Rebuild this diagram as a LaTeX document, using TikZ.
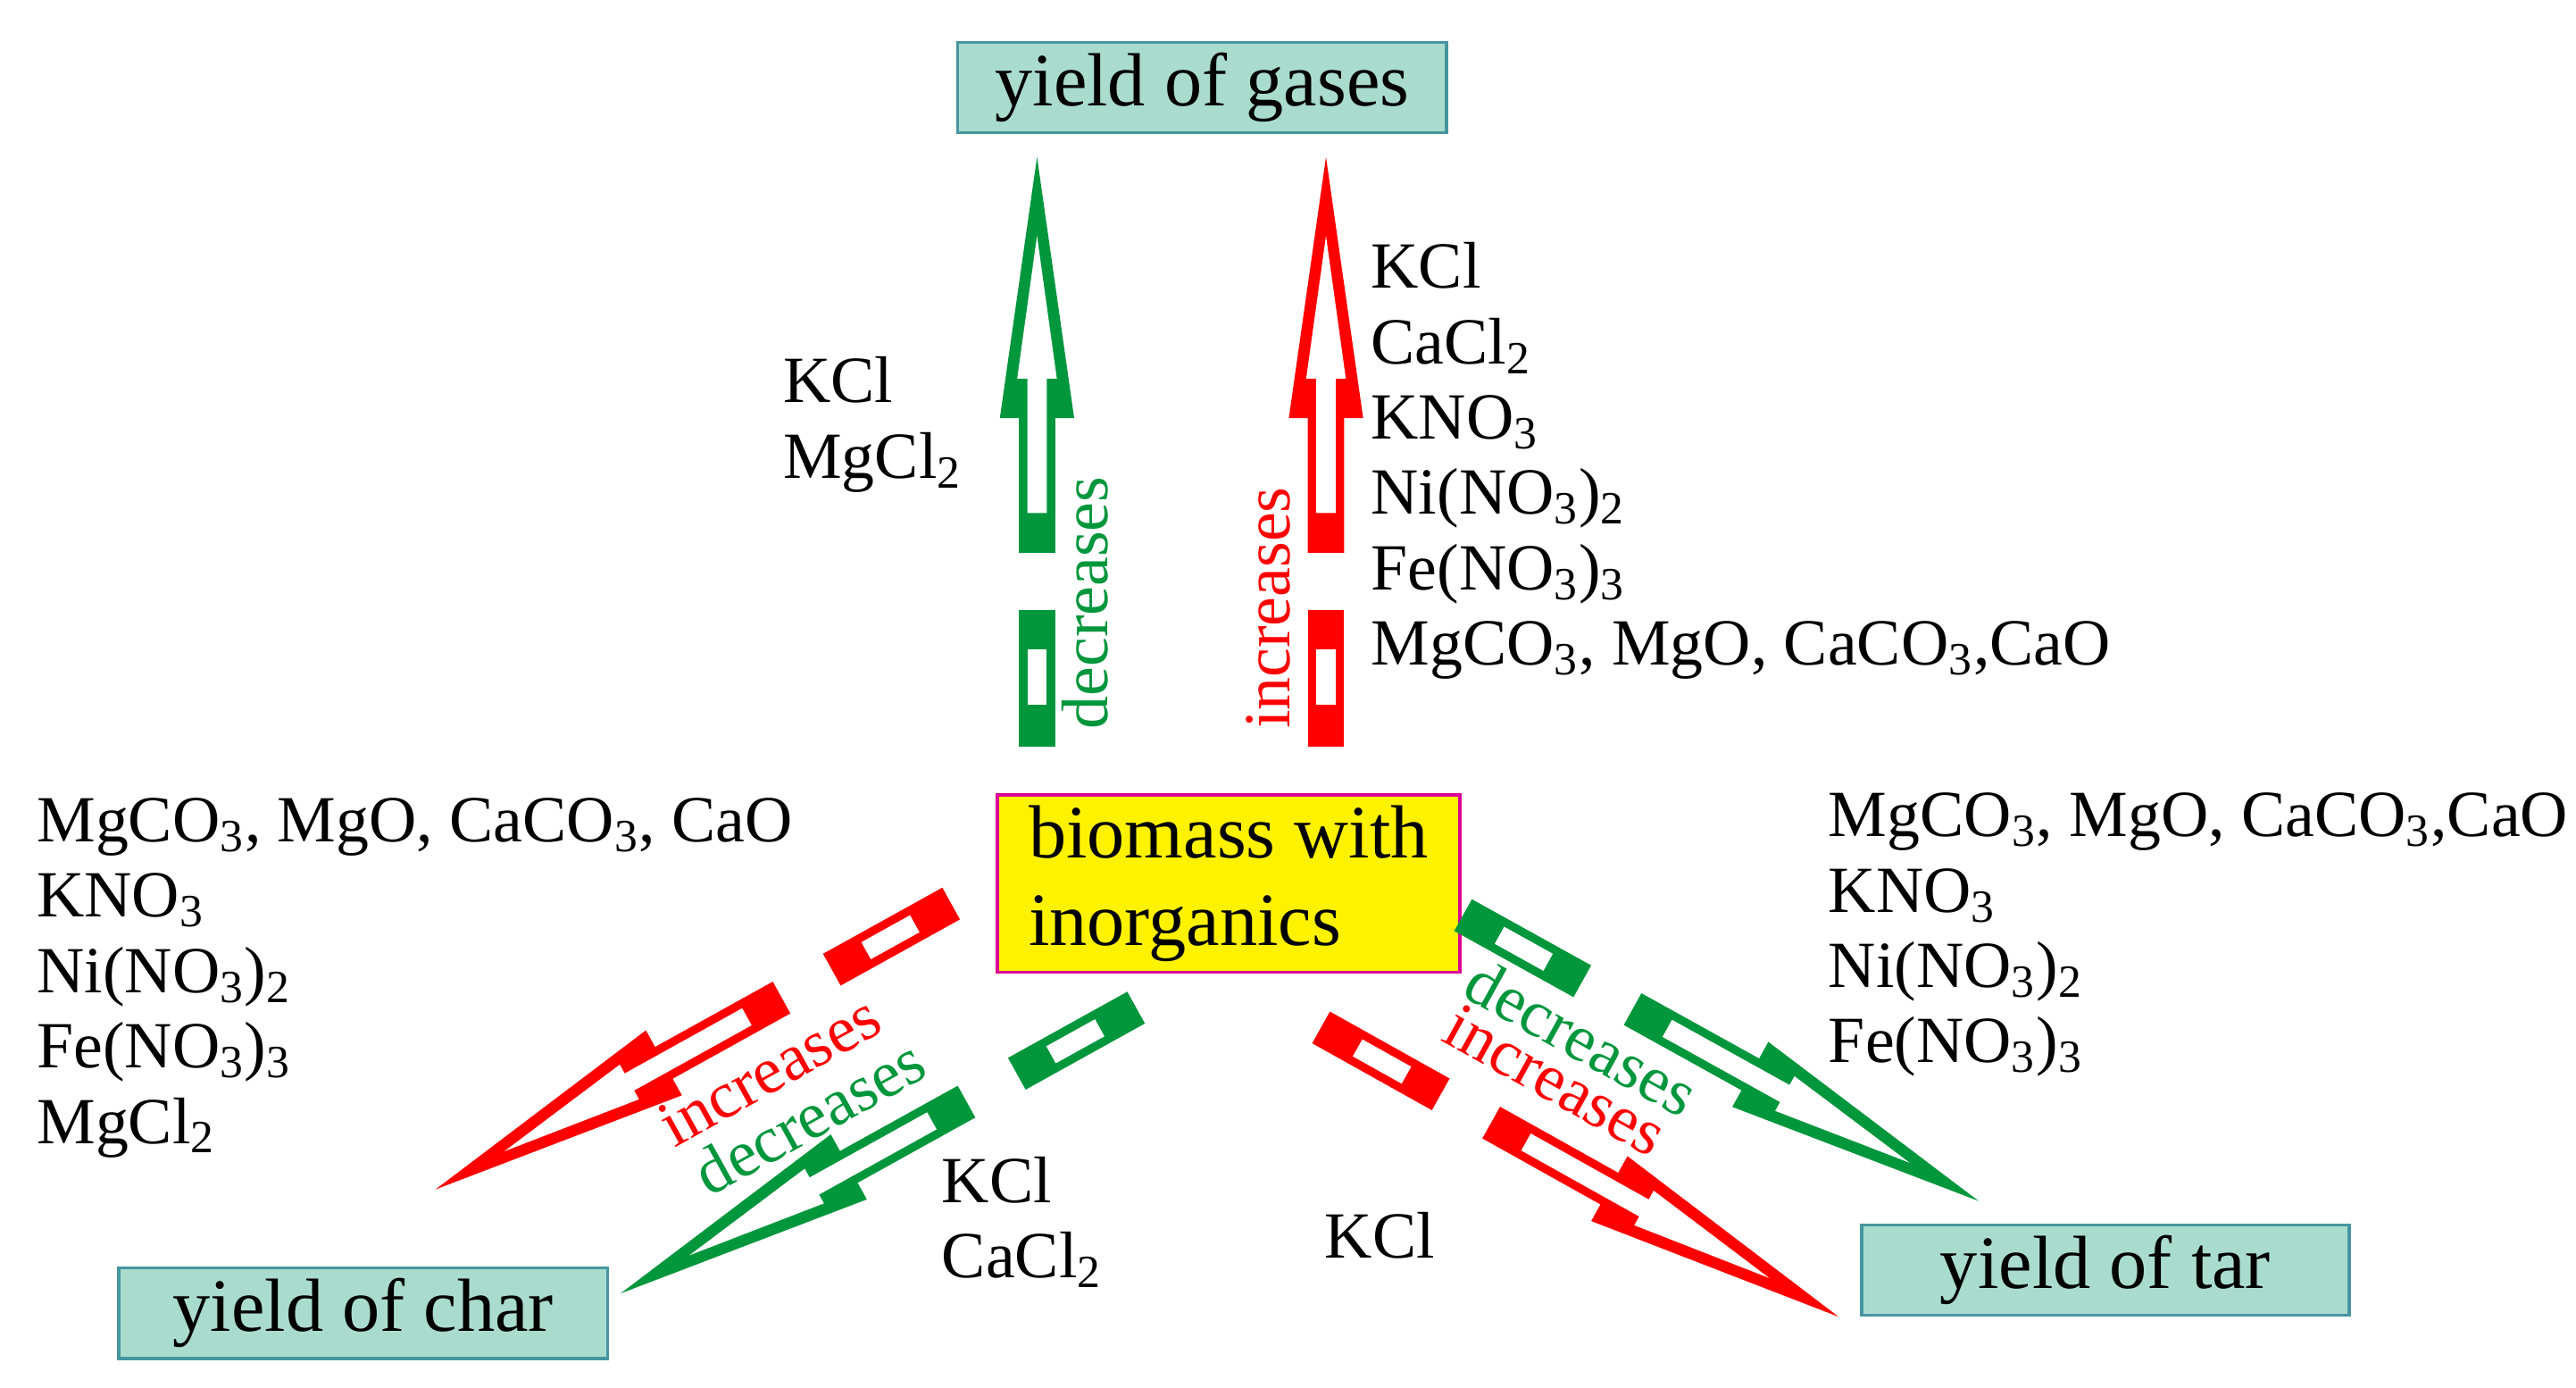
\documentclass[tikz,border=0pt]{standalone}
\usepackage{fontspec}
\setmainfont{Liberation Serif}
\definecolor{dgreen}{RGB}{0,150,60}
\definecolor{boxteal}{RGB}{170,220,205}
\definecolor{edgeteal}{RGB}{70,150,160}
\tikzset{yieldbox/.style={draw=edgeteal,fill=boxteal,line width=1pt,minimum width=296\unitpx,minimum height=53\unitpx,font=\fontsize{24}{28}\selectfont},
  list/.style={anchor=west,align=left,inner sep=0pt,font=\fontsize{21}{24}\selectfont},
  trend/.style={inner sep=0pt,font=\fontsize{21}{22}\selectfont}}
\newcommand{\unitpx}{*0.018494cm}
% broken hollow arrow: colour, base x, base y, angle, length
\newcommand{\bigarr}[5]{%
  \begin{scope}[shift={(#2,#3)},rotate=#4,xscale=#5/357]
   \fill[#1] (0,-11) rectangle (82.6,11);
   \fill[white] (25.2,-5.9) rectangle (58.9,5.9);
   \fill[#1] (117.4,-11) -- (198.9,-11) -- (198.9,-22.5) -- (357,0) -- (198.9,22.5) -- (198.9,11) -- (117.4,11) -- cycle;
   \fill[white] (141.4,-5.9) -- (222.8,-5.9) -- (222.8,-12) -- (309.2,0) -- (222.8,12) -- (222.8,5.9) -- (141.4,5.9) -- cycle;
  \end{scope}}

\begin{document}
\begin{tikzpicture}[x=0.018494cm,y=-0.018494cm]
  \useasboundingbox (0,0) rectangle (1560,840);
  % boxes
  \node[yieldbox] (gases) at (728,53) {yield of gases};
  \node[yieldbox] (char) at (220,795) {yield of char};
  \node[yieldbox,minimum width=295\unitpx] (tar) at (1275,769) {yield of tar};
  \node[draw={rgb,255:red,220;green,0;blue,150},fill=yellow,line width=1pt,minimum width=280\unitpx,minimum height=96\unitpx,
        align=left,font=\fontsize{24}{28}\selectfont] (biomass) at (744,535) {biomass with\\inorganics};
  % arrows
  \bigarr{dgreen}{628}{452}{90}{357}
  \bigarr{red}{803}{452}{90}{357}
  \bigarr{dgreen}{886}{554}{-29}{357}
  \bigarr{red}{800}{622}{-29.2}{359}
  \bigarr{red}{576}{547}{-151}{357}
  \bigarr{dgreen}{688}{610}{-151}{357}
  % trends
  \node[trend,dgreen,rotate=90] (decg) at (657,365) {decreases};
  \node[trend,red,rotate=90] (incg) at (768,368) {increases};
  \node[trend,red,rotate=29] (incc) at (466,648) {increases};
  \node[trend,dgreen,rotate=29] (decc) at (490,676) {decreases};
  \node[trend,dgreen,rotate=-29] (dect) at (958,628) {decreases};
  \node[trend,red,rotate=-29] (inct) at (942,654) {increases};
  % salts
  \node[list] (gasdown) at (474,257) {KCl\\MgCl\textsubscript{2}};
  \node[list] (gasup) at (830,279) {KCl\\CaCl\textsubscript{2}\\KNO\textsubscript{3}\\Ni(NO\textsubscript{3})\textsubscript{2}\\Fe(NO\textsubscript{3})\textsubscript{3}\\MgCO\textsubscript{3}, MgO, CaCO\textsubscript{3},CaO};
  \node[list] (charup) at (22,592) {MgCO\textsubscript{3}, MgO, CaCO\textsubscript{3}, CaO\\KNO\textsubscript{3}\\Ni(NO\textsubscript{3})\textsubscript{2}\\Fe(NO\textsubscript{3})\textsubscript{3}\\MgCl\textsubscript{2}};
  \node[list] (chardown) at (570,740) {KCl\\CaCl\textsubscript{2}};
  \node[list] (tarup) at (1107,566) {MgCO\textsubscript{3}, MgO, CaCO\textsubscript{3},CaO\\KNO\textsubscript{3}\\Ni(NO\textsubscript{3})\textsubscript{2}\\Fe(NO\textsubscript{3})\textsubscript{3}};
  \node[list] (tarinc) at (802,748) {KCl};
\end{tikzpicture}
\end{document}
